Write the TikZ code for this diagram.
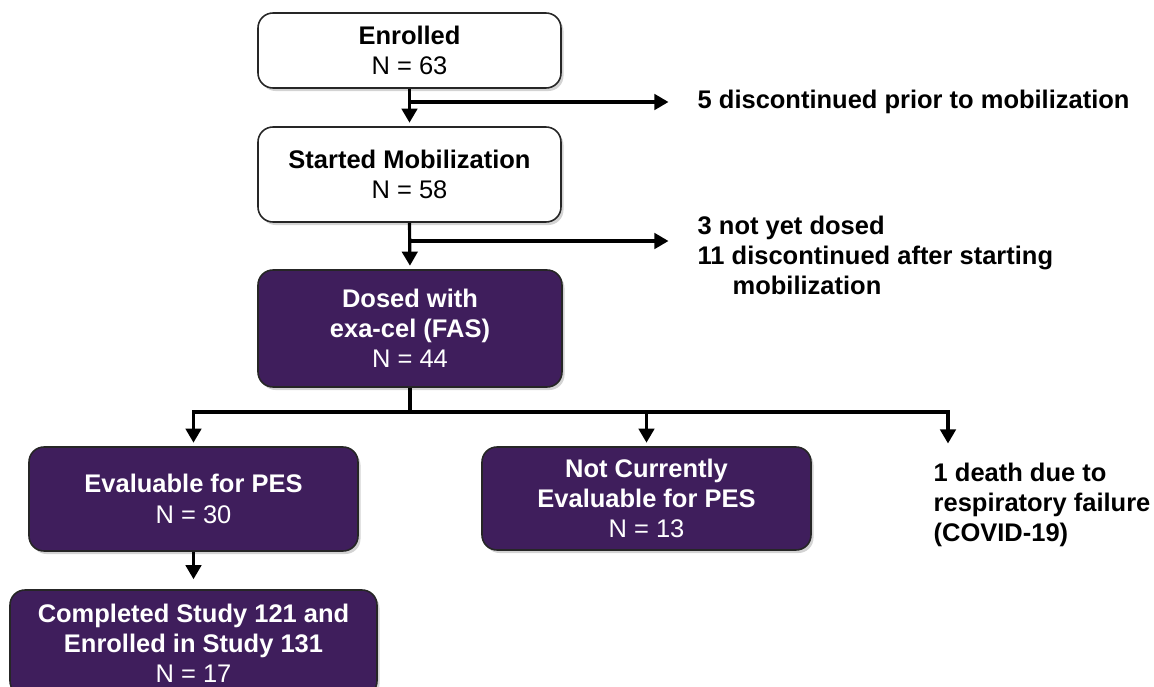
\documentclass[tikz,border=0pt]{standalone}
\usepackage{fontspec}
\setmainfont{Liberation Sans}
\usepackage[dvipsnames]{xcolor}
\usetikzlibrary{arrows.meta,shadows,calc}
\definecolor{flowpurple}{HTML}{3F1E5C}

\begin{document}
\begin{tikzpicture}[
    font=\fontsize{7.25}{8.6}\selectfont,
    box/.style={draw=black!85, line width=0.45pt, rounded corners=0.15cm, align=center,
        inner sep=0pt, drop shadow={shadow xshift=0.025cm, shadow yshift=-0.03cm, opacity=0.35}},
    wbox/.style={box, fill=white, text=black},
    pbox/.style={box, fill=flowpurple, text=white},
    txt/.style={inner sep=0pt, align=left, font=\fontsize{7.25}{8.6}\selectfont\bfseries},
    arr/.style={line width=0.9pt, -{Triangle[length=4pt,width=4.4pt]}, shorten >=1pt},
    ln/.style={line width=0.9pt}
]
    \useasboundingbox (0,0) rectangle (11.54,-6.87);
    \node[wbox, minimum width=3.03cm, minimum height=0.75cm] (enr) at (4.095,-0.505) {\textbf{Enrolled}\\N = 63};
    \node[wbox, minimum width=3.03cm, minimum height=0.95cm] (mob) at (4.095,-1.745) {\textbf{Started Mobilization}\\N = 58};
    \node[pbox, minimum width=3.04cm, minimum height=1.17cm] (dos) at (4.10,-3.285) {\textbf{Dosed with}\\\textbf{exa-cel (FAS)}\\N = 44};
    \node[pbox, minimum width=3.29cm, minimum height=1.04cm] (eva) at (1.935,-4.99) {\textbf{Evaluable for PES}\\N = 30};
    \node[pbox, minimum width=3.29cm, minimum height=1.03cm] (ncu) at (6.465,-4.985) {\textbf{Not Currently}\\\textbf{Evaluable for PES}\\N = 13};
    \node[pbox, minimum width=3.67cm, minimum height=1.06cm] (cmp) at (1.935,-6.43) {\textbf{Completed Study 121 and}\\\textbf{Enrolled in Study 131}\\N = 17};

    \node[txt, anchor=west] (dis1) at (6.97,-1.02) {5 discontinued prior to mobilization};
    \node[txt, anchor=north west] (dis2) at (6.97,-2.15) {3 not yet dosed\\11 discontinued after starting\\\hspace*{0.35cm}mobilization};
    \node[txt, anchor=north west] (dth) at (9.33,-4.62) {1 death due to\\respiratory failure\\(COVID-19)};

    \coordinate (a1) at (6.72,-1.02);
    \coordinate (a2) at (6.72,-2.41);
    \coordinate (j) at (4.10,-4.12);
    \coordinate (a3) at (9.48,-4.47);

    \draw[arr] (enr.south) -- (mob.north);
    \draw[arr] (enr.south |- a1) -- (a1);
    \draw[arr] (mob.south) -- (dos.north);
    \draw[arr] (mob.south |- a2) -- (a2);
    \draw[ln] (dos.south) -- (j);
    \draw[arr] (j) -| (eva.north);
    \draw[arr] (j) -| (ncu.north);
    \draw[arr] (j) -| (a3);
    \draw[arr, shorten >=0.1cm] (eva.south) -- (cmp.north);
\end{tikzpicture}
\end{document}
